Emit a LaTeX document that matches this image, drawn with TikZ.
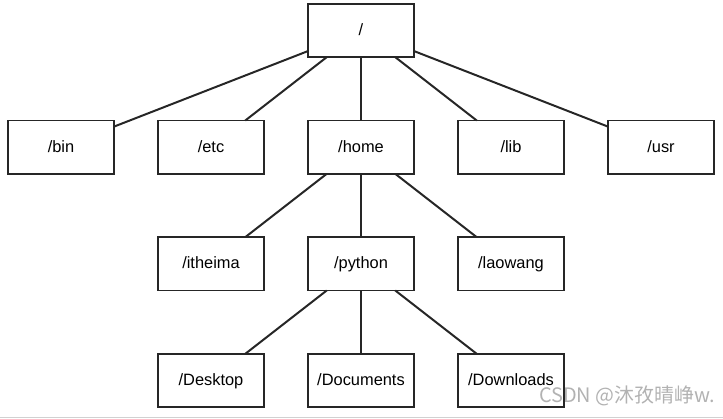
\documentclass[tikz,border=0pt]{standalone}
\usepackage{fontspec}
\setmainfont{Liberation Sans}
\newfontfamily\cjk{Noto Sans CJK SC}
\usetikzlibrary{positioning}

\begin{document}
\begin{tikzpicture}[
  node distance=19mm and 13.2mm,
  dir/.style={draw=black!85, line width=1.7pt, outer sep=0pt, inner sep=0pt,
              minimum width=31.8mm, minimum height=16mm,
              text height=1.02em, text depth=0.14em,
              font=\fontsize{14}{16}\selectfont},
  link/.style={draw=black!85, line width=1.7pt},
  mark line/.style={draw=black!18, line width=0.8pt}
]
\useasboundingbox (-10.83,0.915) rectangle (10.86,-11.655);
% root
\node[dir] (root) at (0,0) {/};
% first level
\node[dir, below=of root] (home) {/home};
\node[dir, left=of home] (etc) {/etc};
\node[dir, left=of etc] (bin) {/bin};
\node[dir, right=of home] (lib) {/lib};
\node[dir, right=of lib] (usr) {/usr};
% second level
\node[dir, below=of home] (python) {/python};
\node[dir, left=of python] (itheima) {/itheima};
\node[dir, right=of python] (laowang) {/laowang};
% third level
\node[dir, below=of python] (documents) {/Documents};
\node[dir, left=of documents] (desktop) {/Desktop};
\node[dir, right=of documents] (downloads) {/Downloads};
\foreach \a/\b in {root/bin, root/etc, root/home, root/lib, root/usr,
                   home/itheima, home/python, home/laowang,
                   python/desktop, python/documents, python/downloads}
  \draw[link] (\a) -- (\b);
% screenshot bits
\coordinate (edgeL) at (-10.83,-11.61);
\coordinate (edgeR) at (10.86,-11.61);
\draw[mark line] (edgeL) -- (edgeR);
\node[anchor=east, text=black!30, font=\cjk\fontsize{17}{19}\selectfont, inner sep=0pt]
  (wm) at (10.62,-10.95) {CSDN @沐孜晴峥w.};
\end{tikzpicture}
\end{document}
